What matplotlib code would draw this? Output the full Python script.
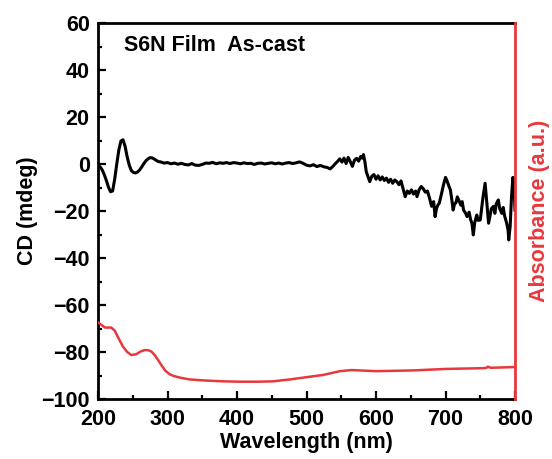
import matplotlib
matplotlib.use("Agg")
import matplotlib.pyplot as plt
from matplotlib.ticker import MultipleLocator

plt.rcParams['font.family'] = ['Liberation Sans', 'DejaVu Sans']
plt.rcParams['font.weight'] = 'bold'

# CD spectrum (mdeg)
wl_cd = [200,203,206,209,212,215,218,221,224,227,230,233,236,239,242,245,248,251,254,257,
         260,263,266,269,272,275,278,281,284,287,290,295,300,305,310,315,320,325,330,335,
         340,345,350,355,360,365,370,375,380,385,390,395,400,405,410,415,420,425,430,435,
         440,445,450,455,460,465,470,475,480,485,490,495,500,505,510,515,520,525,530,534,
         538,542,545,548,551,554,557,560,563,566,569,572,575,578,580,582,584,586,588,591,
         594,597,600,603,606,609,612,615,618,621,624,627,630,633,636,639,642,645,648,651,
         654,657,659,662,665,668,671,674,677,680,683,685,687,689,691,694,697,700,702,705,
         707,709,711,713,715,717,719,722,724,726,729,731,734,736,738,740,742,745,747,750,
         752,754,757,759,762,764,766,769,771,773,776,778,781,783,785,788,790,791,793,795,
         797,799,800]
cd = [-0.5,-1.2,-2.5,-4.5,-7.0,-9.8,-11.8,-11.5,-6.5,0.0,6.0,9.8,10.3,7.5,3.0,-0.5,-2.8,-3.6,-3.8,-3.4,
      -2.5,-1.2,0.2,1.4,2.2,2.7,2.6,2.1,1.5,1.0,0.9,0.4,0.6,0.1,0.4,-0.1,0.3,-0.2,-0.4,0.2,
      -0.5,-0.6,-0.2,0.4,0.3,0.7,0.1,0.5,0.3,0.6,0.2,0.6,0.4,0.1,0.5,0.2,0.3,-0.2,0.3,0.4,
      0.0,0.3,0.5,0.1,0.4,0.0,0.4,0.6,0.2,0.5,0.9,0.3,-0.5,-0.8,-0.3,-1.1,-0.6,-1.2,-1.5,-2.1,
      -1.0,0.3,1.2,2.2,0.8,2.5,0.2,2.8,1.0,-1.0,1.6,2.4,1.2,3.2,2.5,4.0,1.0,-3.3,-5.0,-7.5,
      -5.2,-4.5,-6.5,-5.0,-6.8,-5.5,-7.0,-6.0,-7.8,-6.5,-8.2,-6.8,-7.5,-8.8,-7.2,-10.5,-13.9,-11.5,-12.5,-11.0,
      -12.8,-11.5,-13.9,-11.0,-9.6,-10.5,-12.0,-11.5,-14.5,-18.0,-16.0,-22.4,-19.0,-17.5,-16.7,-13.0,-9.0,-5.7,-7.0,-9.5,
      -11.0,-15.0,-19.6,-17.0,-16.5,-14.0,-15.3,-17.5,-16.0,-19.6,-21.0,-22.4,-20.5,-23.5,-25.2,-30.2,-25.0,-21.7,-24.0,-23.8,
      -19.0,-14.0,-8.2,-15.0,-25.2,-22.0,-19.0,-18.0,-21.0,-17.0,-15.3,-19.0,-21.0,-18.5,-22.0,-25.2,-28.0,-32.3,-26.6,-14.0,
      -5.7,-12.0,-19.6]

# Absorbance spectrum (a.u.)
wl_abs = [200,205,210,215,219,224,230,236,242,248,255,261,267,272,277,282,287,292,297,303,
          309,320,332,356,380,404,430,452,476,500,524,548,565,600,653,701,755,759,761,765,800]
absorb = [0.204,0.197,0.190,0.190,0.190,0.182,0.160,0.139,0.125,0.117,0.119,0.126,0.130,0.130,0.126,0.116,0.102,0.088,0.075,0.066,
          0.061,0.056,0.052,0.049,0.047,0.046,0.046,0.047,0.052,0.058,0.064,0.074,0.077,0.074,0.076,0.080,0.082,0.083,0.086,0.083,0.085]

red = '#E8383D'
fs = 15.5

fig = plt.figure(figsize=(5.52, 4.59), dpi=100)
ax = fig.add_axes([98/552, 1-399/459, 417/552, 376/459])
ax.plot(wl_cd, cd, color='black', lw=2.2)
ax.set_xlim(200, 800)
ax.set_ylim(-100, 60)
ax.xaxis.set_major_locator(MultipleLocator(100))
ax.xaxis.set_minor_locator(MultipleLocator(50))
ax.yaxis.set_major_locator(MultipleLocator(20))
ax.yaxis.set_minor_locator(MultipleLocator(10))
ax.tick_params(which='both', direction='in', width=1.6, labelsize=fs, top=False, right=False)
ax.tick_params(which='major', length=6)
ax.tick_params(which='minor', length=3)
ax.tick_params(axis='x', pad=7.5)
ax.tick_params(axis='y', pad=6)
for s in ax.spines.values():
    s.set_linewidth(2.0)
ax.spines['right'].set_visible(False)
for lab in ax.get_xticklabels() + ax.get_yticklabels():
    lab.set_fontweight('bold')
ax.set_xlabel('Wavelength (nm)', fontsize=fs, fontweight='bold', labelpad=1)
ax.set_ylabel('CD (mdeg)', fontsize=fs, fontweight='bold', labelpad=2)
ax.text(0.062, 0.94, 'S6N Film  As-cast', transform=ax.transAxes, fontsize=fs,
        fontweight='bold', va='center', ha='left')

ax2 = ax.twinx()
ax2.plot(wl_abs, absorb, color=red, lw=1.8)
ax2.set_ylim(0, 1)
ax2.set_yticks([])
for k in ['left', 'top', 'bottom']:
    ax2.spines[k].set_visible(False)
ax2.spines['right'].set_color(red)
ax2.spines['right'].set_linewidth(2.0)
ax2.set_ylabel('Absorbance (a.u.)', fontsize=fs, fontweight='bold', color=red, labelpad=10)

fig.savefig('out.png', dpi=100)
